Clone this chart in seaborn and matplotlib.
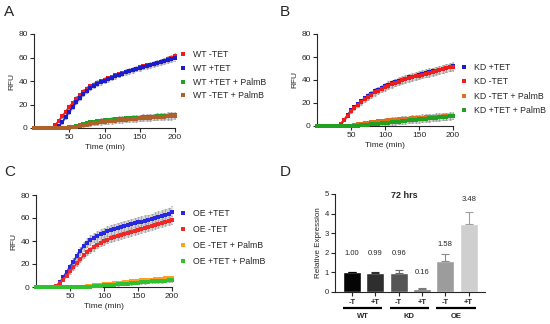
import numpy as np
import matplotlib
matplotlib.use("Agg")
import matplotlib.pyplot as plt
import matplotlib.transforms as mtransforms
from matplotlib.lines import Line2D
import seaborn as sns

# --- data ---
TIME = np.arange(0, 201, 5)  # minutes

# panel A: WT
WT_NEG_TET = [0, 0, 0, 0, 0, 0, 2.5, 6, 10, 14,
              18, 21.5, 25, 28, 31, 33.5, 35.5, 37, 38.5, 40,
              41, 42.3, 43.5, 44.7, 45.8, 46.8, 47.8, 48.8, 49.7, 50.6,
              51.5, 52.4, 53.2, 54, 54.8, 55.6, 56.5, 57.4, 58.5, 59.6,
              61]
WT_POS_TET = [0, 0, 0, 0, 0, 0, 0, 1.5, 5, 9.5,
              14, 18, 22, 25.5, 29, 31.5, 34, 36, 37.5, 39,
              40.2, 41.5, 42.8, 44, 45.2, 46.3, 47.3, 48.3, 49.2, 50.1,
              51, 51.9, 52.7, 53.5, 54.3, 55.1, 56, 56.9, 57.8, 58.8,
              59.8]
WT_POS_TET_PALMB = [0, 0, 0, 0, 0, 0, 0, 0, 0, 0,
                    0.5, 1.2, 2, 2.8, 3.5, 4.2, 4.8, 5.3, 5.8, 6.2,
                    6.6, 6.9, 7.2, 7.5, 7.7, 7.9, 8.1, 8.3, 8.5, 8.7,
                    8.9, 9.1, 9.3, 9.5, 9.7, 9.9, 10.1, 10.3, 10.5, 10.7,
                    11]
WT_NEG_TET_PALMB = [0, 0, 0, 0, 0, 0, 0, 0, 0, 0,
                    0, 0.5, 1, 1.6, 2.2, 2.8, 3.4, 3.9, 4.4, 4.8,
                    5.2, 5.6, 5.9, 6.2, 6.5, 6.8, 7.1, 7.3, 7.6, 7.8,
                    8.1, 8.3, 8.5, 8.8, 9, 9.2, 9.4, 9.6, 9.8, 10,
                    10.2]
A_SD_FAST = [0, 0, 0, 0, 0, 0, 0.6, 1.0, 1.3, 1.5,
             1.7, 1.8, 1.9, 2.0, 2.0, 2.0, 2.0, 2.0, 2.0, 2.0,
             2.0, 2.0, 2.0, 2.0, 2.0, 2.0, 2.0, 2.0, 2.0, 2.0,
             2.1, 2.1, 2.1, 2.2, 2.2, 2.2, 2.3, 2.3, 2.4, 2.4,
             2.5]
A_SD_SLOW = [0, 0, 0, 0, 0, 0, 0, 0, 0, 0,
             0.4, 0.7, 1.0, 1.2, 1.4, 1.5, 1.6, 1.7, 1.8, 1.9,
             2.0, 2.0, 2.1, 2.1, 2.2, 2.2, 2.3, 2.3, 2.4, 2.4,
             2.5, 2.5, 2.5, 2.6, 2.6, 2.6, 2.7, 2.7, 2.7, 2.8,
             2.8]

# panel B: KD
KD_POS_TET = [0, 0, 0, 0, 0, 0, 0, 2, 5.5, 9.5,
              13.5, 16.5, 19, 21.5, 24, 26, 28, 30, 31.5, 33,
              34.5, 35.7, 37, 38.2, 39.3, 40.3, 41.3, 42.2, 43, 43.8,
              44.6, 45.4, 46.1, 46.8, 47.5, 48.2, 49, 49.7, 50.5, 51.2,
              52]
KD_NEG_TET = [0, 0, 0, 0, 0, 0, 0, 1.5, 5, 9,
              13, 16, 18.5, 21, 23.3, 25.3, 27.3, 29.2, 30.8, 32.3,
              33.7, 35, 36.3, 37.5, 38.6, 39.6, 40.6, 41.5, 42.3, 43.1,
              43.9, 44.7, 45.4, 46.2, 46.9, 47.7, 48.5, 49.3, 50.1, 50.9,
              51.7]
KD_NEG_TET_PALMB = [0, 0, 0, 0, 0, 0, 0, 0, 0, 0,
                    0.4, 0.9, 1.4, 1.9, 2.4, 2.8, 3.2, 3.6, 4, 4.3,
                    4.6, 4.9, 5.2, 5.5, 5.7, 6, 6.2, 6.4, 6.6, 6.8,
                    7, 7.2, 7.4, 7.6, 7.8, 8, 8.2, 8.4, 8.6, 8.8,
                    9]
KD_POS_TET_PALMB = [0, 0, 0, 0, 0, 0, 0, 0, 0, 0,
                    0, 0, 0.3, 0.6, 0.9, 1.2, 1.5, 1.8, 2.1, 2.4,
                    2.7, 3, 3.3, 3.6, 3.9, 4.2, 4.5, 4.8, 5.1, 5.4,
                    5.7, 6, 6.3, 6.6, 6.9, 7.2, 7.5, 7.8, 8.1, 8.4,
                    8.7]
B_SD_FAST = [0, 0, 0, 0, 0, 0, 0, 0.6, 1.0, 1.4,
             1.7, 2.0, 2.2, 2.4, 2.5, 2.6, 2.7, 2.8, 2.8, 2.9,
             2.9, 3.0, 3.0, 3.0, 3.0, 3.1, 3.1, 3.1, 3.1, 3.2,
             3.2, 3.2, 3.2, 3.3, 3.3, 3.3, 3.3, 3.4, 3.4, 3.4,
             3.5]
B_SD_SLOW = [0, 0, 0, 0, 0, 0, 0, 0, 0, 0,
             0.3, 0.6, 0.9, 1.1, 1.3, 1.5, 1.7, 1.8, 1.9, 2.0,
             2.1, 2.2, 2.3, 2.4, 2.5, 2.5, 2.6, 2.6, 2.7, 2.7,
             2.8, 2.8, 2.8, 2.9, 2.9, 2.9, 3.0, 3.0, 3.0, 3.0,
             3.0]

# panel C: OE
OE_POS_TET = [0, 0, 0, 0, 0, 0, 1, 4, 8.5, 13,
              17.5, 22, 27, 31.5, 35.5, 38.5, 40.8, 42.8, 44.5, 46,
              47.3, 48.5, 49.6, 50.6, 51.5, 52.4, 53.2, 54, 54.7, 55.4,
              56.1, 56.8, 57.5, 58.2, 59, 59.9, 60.8, 61.8, 62.8, 63.8,
              64.8]
OE_NEG_TET = [0, 0, 0, 0, 0, 0, 0.8, 3.5, 6.5, 10,
              13.5, 17, 20.5, 24, 27.5, 30.2, 32.5, 34.5, 36.5, 38.2,
              39.7, 41, 42.2, 43.2, 44.2, 45.1, 46, 46.9, 47.8, 48.7,
              49.6, 50.5, 51.4, 52.3, 53.2, 54.1, 55, 55.8, 56.6, 57.3,
              58]
OE_NEG_TET_PALMB = [0, 0, 0, 0, 0, 0, 0, 0, 0, 0,
                    0, 0, 0, 0, 0.3, 0.6, 1, 1.4, 1.8, 2.1,
                    2.4, 2.7, 3, 3.3, 3.6, 3.9, 4.2, 4.5, 4.8, 5.1,
                    5.4, 5.7, 6, 6.2, 6.5, 6.8, 7, 7.3, 7.5, 7.8,
                    8]
OE_POS_TET_PALMB = [0, 0, 0, 0, 0, 0, 0, 0, 0, 0,
                    0, 0, 0, 0, 0, 0, 0.3, 0.6, 0.9, 1.2,
                    1.5, 1.7, 1.9, 2.1, 2.3, 2.6, 2.8, 3.0, 3.3, 3.5,
                    3.8, 4.0, 4.3, 4.5, 4.8, 5.0, 5.2, 5.4, 5.6, 5.8,
                    6.0]
C_SD_BLUE = [0, 0, 0, 0, 0, 0, 0.5, 1.0, 1.6, 2.2,
             2.7, 3.1, 3.4, 3.6, 3.8, 3.9, 4.0, 4.0, 4.1, 4.1,
             4.2, 4.2, 4.3, 4.3, 4.4, 4.4, 4.5, 4.5, 4.6, 4.6,
             4.7, 4.7, 4.8, 4.8, 4.9, 4.9, 5.0, 5.0, 5.1, 5.2,
             5.3]
C_SD_RED = [0, 0, 0, 0, 0, 0, 0.4, 0.8, 1.2, 1.5,
            1.8, 2.0, 2.2, 2.4, 2.5, 2.6, 2.7, 2.8, 2.8, 2.9,
            2.9, 3.0, 3.0, 3.0, 3.0, 3.1, 3.1, 3.1, 3.1, 3.2,
            3.2, 3.2, 3.2, 3.3, 3.3, 3.3, 3.3, 3.4, 3.4, 3.4,
            3.5]
C_SD_SLOW = [0, 0, 0, 0, 0, 0, 0, 0, 0, 0,
             0, 0, 0, 0, 0.2, 0.3, 0.4, 0.5, 0.6, 0.7,
             0.8, 0.8, 0.9, 0.9, 1.0, 1.0, 1.1, 1.1, 1.2, 1.2,
             1.2, 1.3, 1.3, 1.3, 1.4, 1.4, 1.4, 1.5, 1.5, 1.5,
             1.5]

# panel D: qPCR at 72 hrs
GROUPS = ["WT", "KD", "OE"]
CONDITIONS = ["-T", "+T"]
EXPRESSION = [1.00, 0.99, 0.96, 0.16, 1.58, 3.48]
EXPR_ERR = [0.0, 0.03, 0.18, 0.05, 0.35, 0.62]

# --- figure setup ---
W, H = 550, 324
sns.set_style("ticks")
plt.rcParams["font.family"] = ["Liberation Sans", "DejaVu Sans"]
plt.rcParams["axes.linewidth"] = 0.8
plt.rcParams["xtick.major.width"] = 0.8
plt.rcParams["ytick.major.width"] = 0.8
plt.rcParams["xtick.major.size"] = 3
plt.rcParams["ytick.major.size"] = 3

fig = plt.figure(figsize=(W / 100, H / 100), dpi=100)


def px_axes(left, top, right, bottom):
    return fig.add_axes([left / W, 1 - bottom / H, (right - left) / W, (bottom - top) / H])


def draw_kinetics(ax, series, sds, colors, labels, legend_xy, spacing):
    for y, sd in zip(series, sds):
        y, sd = np.array(y), np.array(sd)
        ax.fill_between(TIME, y - sd, y + sd, color="#d2d2d2", lw=0, zorder=1)
        ax.errorbar(TIME, y, yerr=sd, fmt="none", ecolor="#9a9a9a",
                    elinewidth=0.5, capsize=0.8, capthick=0.5, zorder=2)
    for y, c in zip(series, colors):
        sns.lineplot(x=TIME, y=y, ax=ax, color=c, marker="s", markersize=2.4,
                     markeredgewidth=0, linewidth=1.3, zorder=3, clip_on=False)
    ax.set_xlim(0, 200)
    ax.set_ylim(0, 80)
    ax.set_xticks([50, 100, 150, 200])
    ax.set_yticks([0, 20, 40, 60, 80])
    ax.tick_params(labelsize=6, pad=1.5)
    ax.set_xlabel("Time (min)", fontsize=6, labelpad=2)
    ax.set_ylabel("RFU", fontsize=6, labelpad=2)
    sns.despine(ax=ax)
    handles = [Line2D([], [], marker="s", ls="none", color=c, markersize=2.2,
                      markeredgewidth=0) for c in colors]
    ax.legend(handles, labels, loc="upper left",
              bbox_to_anchor=(legend_xy[0] / W, 1 - legend_xy[1] / H),
              bbox_transform=fig.transFigure, frameon=False, fontsize=6.3,
              handlelength=0.6, handletextpad=0.9, labelspacing=spacing,
              borderpad=0, borderaxespad=0)


# A
ax_a = px_axes(34, 34, 175, 128)
draw_kinetics(ax_a,
              [WT_NEG_TET, WT_POS_TET, WT_POS_TET_PALMB, WT_NEG_TET_PALMB],
              [A_SD_FAST, A_SD_FAST, A_SD_SLOW, A_SD_SLOW],
              ["#f01c1c", "#1c1ccc", "#22a022", "#b0602a"],
              ["WT -TET", "WT +TET", "WT +TET + PalmB", "WT -TET + PalmB"],
              (180, 50), 0.55)

# B
ax_b = px_axes(317, 34, 453, 126)
draw_kinetics(ax_b,
              [KD_POS_TET, KD_NEG_TET, KD_NEG_TET_PALMB, KD_POS_TET_PALMB],
              [B_SD_FAST, B_SD_FAST, B_SD_SLOW, B_SD_SLOW],
              ["#1c1ccc", "#f01c1c", "#e0701c", "#22a022"],
              ["KD +TET", "KD -TET", "KD -TET + PalmB", "KD +TET + PalmB"],
              (461, 63), 0.62)

# C
ax_c = px_axes(36, 195, 172, 287)
draw_kinetics(ax_c,
              [OE_POS_TET, OE_NEG_TET, OE_NEG_TET_PALMB, OE_POS_TET_PALMB],
              [C_SD_BLUE, C_SD_RED, C_SD_SLOW, C_SD_SLOW],
              ["#2828e0", "#f02828", "#ffa020", "#30c030"],
              ["OE +TET", "OE -TET", "OE -TET + PalmB", "OE +TET + PalmB"],
              (180, 209), 0.8)

# D
ax_d = px_axes(335, 194, 485, 292)
bar_names = [f"{g} {c}" for g in GROUPS for c in CONDITIONS]
bar_colors = ["#050505", "#2e2e2e", "#555555", "#7a7a7a", "#9c9c9c", "#cfcfcf"]
err_colors = ["#050505", "#2e2e2e", "#6a6a6a", "#7a7a7a", "#8a8a8a", "#9e9e9e"]
sns.barplot(x=bar_names, y=EXPRESSION, hue=bar_names, palette=bar_colors,
            legend=False, width=0.77, ax=ax_d, saturation=1)
positions = np.arange(len(bar_names))
for xpos, v, e, ec in zip(positions, EXPRESSION, EXPR_ERR, err_colors):
    ax_d.errorbar([xpos], [v], yerr=[[0], [e]], fmt="none", ecolor=ec,
                  elinewidth=0.8, capsize=3, capthick=0.8)
label_y = [1.95, 1.95, 1.95, 0.97, 2.4, 4.7]
for xpos, v, ly in zip(positions, EXPRESSION, label_y):
    ax_d.text(xpos, ly, f"{v:.2f}", ha="center", va="center", fontsize=5.5)
ax_d.set_xlim(-0.73, 5.7)
ax_d.set_ylim(0, 5)
ax_d.set_yticks(range(6))
ax_d.set_xticks(positions)
ax_d.set_xticklabels(CONDITIONS * len(GROUPS), fontsize=5.5, fontweight="bold")
ax_d.tick_params(axis="y", labelsize=5.5, pad=1.5)
ax_d.tick_params(axis="x", pad=2)
ax_d.set_ylabel("Relative Expression", fontsize=5.8, labelpad=2)
ax_d.text(2.26, 4.9, "72 hrs", ha="center", va="center", fontsize=6.5, fontweight="bold")
sns.despine(ax=ax_d)
trans = mtransforms.blended_transform_factory(ax_d.transData, ax_d.transAxes)
for i, g in enumerate(GROUPS):
    ax_d.plot([2 * i - 0.38, 2 * i + 1.3], [-0.165, -0.165], transform=trans,
              color="black", lw=1.6, clip_on=False, solid_capstyle="butt")
    ax_d.text(2 * i + 0.46, -0.245, g, transform=trans, ha="center", va="center",
              fontsize=5.5, fontweight="bold")

# panel letters
for letter, (lx, ly) in zip("ABCD", [(4, 12), (280, 12), (4, 172), (280, 172)]):
    fig.text(lx / W, 1 - ly / H, letter, fontsize=11, va="center", ha="left")

fig.savefig("out.png", dpi=100)
